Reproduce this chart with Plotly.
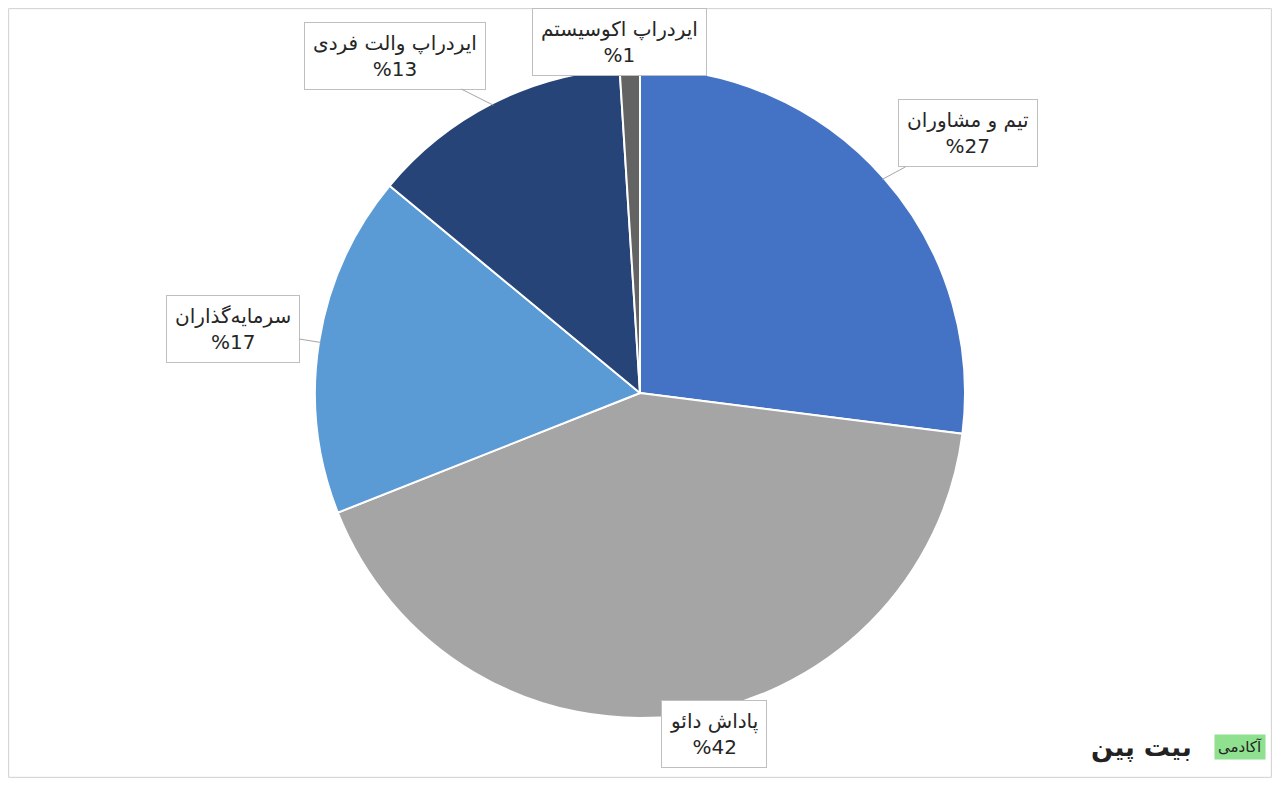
import math
import plotly.graph_objects as go

labels = ["تیم و مشاوران", "پاداش دائو", "سرمایه‌گذاران", "ایردراپ والت فردی", "ایردراپ اکوسیستم"]
values = [27, 42, 17, 13, 1]
colors = ["#4472C4", "#A5A5A5", "#5B9BD5", "#264478", "#636363"]
# label distance from centre (px) and angle nudge (deg), for the callout boxes
label_r = [418, 349, 412, 417, 352]
label_da = [3, -5, 0, -9, -1.5]

W, H = 1264, 770
MT, MB = 60, 60
cx, cy, R = W / 2, MT + (H - MT - MB) / 2, (H - MT - MB) / 2

fig = go.Figure(go.Pie(
    labels=labels, values=values, sort=False, direction="clockwise", rotation=0,
    marker=dict(colors=colors, line=dict(color="white", width=2)),
    textinfo="none", hoverinfo="label+percent", showlegend=False,
))

def to_paper(px, py):
    return px / W, (H - MB - py) / (H - MT - MB)

total = sum(values)
cum = 0
annotations = []
for lab, v, lr, da in zip(labels, values, label_r, label_da):
    mid = (cum + v / 2) / total * 360
    cum += v
    a = math.radians(mid + da)
    bx, by = cx + lr * math.sin(a), cy - lr * math.cos(a)
    m = math.radians(mid)
    ex, ey = cx + (R - 2) * math.sin(m), cy - (R - 2) * math.cos(m)
    arrow = lr > 380
    x, y = to_paper(ex, ey) if arrow else to_paper(bx, by)
    annotations.append(dict(
        x=x, y=y, xref="paper", yref="paper", xanchor="center", yanchor="middle",
        text=f"{lab}<br>%{v}", showarrow=arrow,
        ax=bx - ex, ay=by - ey, arrowhead=0, arrowwidth=1, arrowcolor="#a6a6a6",
        font=dict(family="DejaVu Sans", size=20, color="#262626"),
        bgcolor="white", bordercolor="#bfbfbf", borderwidth=1, borderpad=8,
    ))

annotations.append(dict(
    x=0.995, y=-0.045, xref="paper", yref="paper", xanchor="right", yanchor="middle",
    showarrow=False, text="آکادمی", bgcolor="#8fe08f", borderpad=3,
    font=dict(family="DejaVu Sans", size=15, color="#222"),
))
annotations.append(dict(
    x=0.938, y=-0.045, xref="paper", yref="paper", xanchor="right", yanchor="middle",
    showarrow=False, text="<b>بیت پین</b>",
    font=dict(family="DejaVu Sans", size=26, color="#222"),
))

fig.update_layout(
    width=W, height=H, margin=dict(l=0, r=0, t=MT, b=MB),
    paper_bgcolor="white", annotations=annotations,
    shapes=[dict(type="rect", xref="paper", yref="paper",
                 x0=0.0005, x1=0.9995, y0=-MB / (H - MT - MB) + 0.001,
                 y1=1 + MT / (H - MT - MB) - 0.001,
                 line=dict(color="#d0d0d0", width=1))],
)
fig.write_html("out.html")
